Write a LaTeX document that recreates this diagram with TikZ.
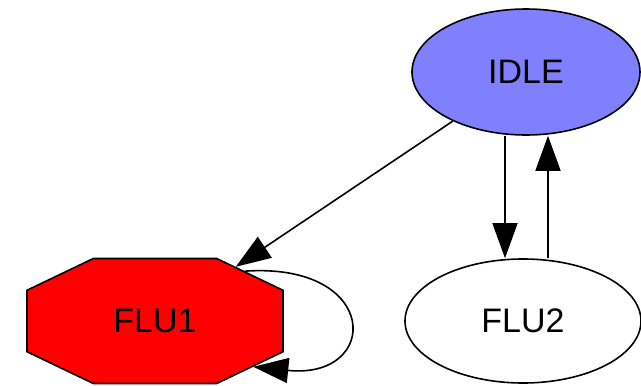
\documentclass[tikz,border=0pt]{standalone}
\usepackage{fontspec}
\setmainfont{Liberation Sans}
\usetikzlibrary{arrows.meta,shapes.geometric,shapes.misc}
\definecolor{idleblue}{RGB}{128,128,255}

\begin{document}
\begin{tikzpicture}[x=1pt,y=-1pt]
\tikzstyle{state}=[draw, line width=1.6pt, inner sep=0pt, font=\fontsize{34}{40}\selectfont]
\tikzstyle{trans}=[line width=1.6pt, -{Triangle[length=35pt,width=25pt]}]

\useasboundingbox (0,0) rectangle (641,386);

 \node[state, ellipse, fill=idleblue, minimum width=228pt, minimum height=126pt] (idle) at (526,72) {IDLE};
 \node[state, chamfered rectangle, fill=red, chamfered rectangle angle=64.4, chamfered rectangle xsep=73pt,
       chamfered rectangle ysep=35pt, minimum width=256pt, minimum height=125pt] (flu1) at (155,321) {FLU1};
 \node[state, ellipse, fill=white, minimum width=236pt, minimum height=124pt] (flu2) at (523,321) {FLU2};

 \draw[trans] (idle) -- (flu1);
 \draw[trans] ([xshift=-21pt]idle.south) -- ([xshift=-18pt]flu2.north);
 \draw[trans] ([xshift=25pt]flu2.north) -- ([xshift=22pt]idle.south);
 % loop on FLU1
 \draw[trans] (flu1.29) .. controls (381,262) and (381,380) .. (flu1.-25);
\end{tikzpicture}
\end{document}
